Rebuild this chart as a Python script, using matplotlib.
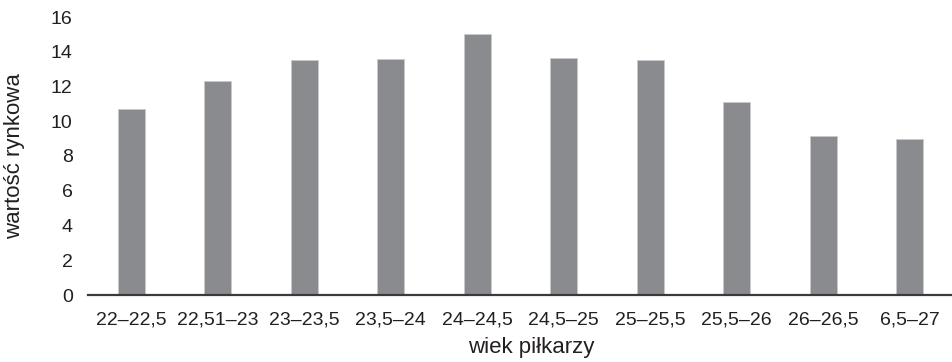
import numpy as np
import matplotlib.pyplot as plt

# age groups and market value
groups = ['22–22,5', '22,51–23', '23–23,5', '23,5–24', '24–24,5',
          '24,5–25', '25–25,5', '25,5–26', '26–26,5', '6,5–27']
values = [10.7, 12.3, 13.55, 13.6, 15.05, 13.65, 13.55, 11.1, 9.15, 9.0]
yticks = [0, 2, 4, 6, 8, 10, 12, 14, 16]

plt.rcParams['font.family'] = ['Liberation Sans', 'DejaVu Sans']
text_color = '#231f20'

fig = plt.figure(figsize=(9.53, 3.62), dpi=100)
ax = fig.add_axes([88 / 953, 67 / 362, 865 / 953, 278 / 362])

x = np.arange(len(groups))
ax.bar(x, values, width=0.31, color='#8a8b8f', edgecolor='#c8c9cb', linewidth=0.6)

ax.set_xlim(-0.5, len(groups) - 0.5)
ax.set_ylim(0, 16)
ax.set_xticks(x)
ax.set_xticklabels(groups)
ax.set_yticks(yticks)

for side in ['top', 'right', 'left']:
    ax.spines[side].set_visible(False)
ax.spines['bottom'].set_color('#3a3a3a')
ax.spines['bottom'].set_linewidth(1.6)

ax.tick_params(axis='x', length=0, pad=12, labelsize=14, labelcolor=text_color)
ax.tick_params(axis='y', length=0, pad=11, labelsize=14, labelcolor=text_color)

ax.set_xlabel('wiek piłkarzy', fontsize=16, color=text_color)
ax.set_ylabel('wartość rynkowa', fontsize=16, color=text_color)
# place axis labels where the original has them
ax.xaxis.set_label_coords((531 - 88) / 865, -(348 - 295) / 278)
ax.xaxis.label.set_va('center')
ax.yaxis.set_label_coords(-(88 - 15) / 865, 0.5)
ax.yaxis.label.set_va('center')

fig.savefig('out.png', dpi=100)
